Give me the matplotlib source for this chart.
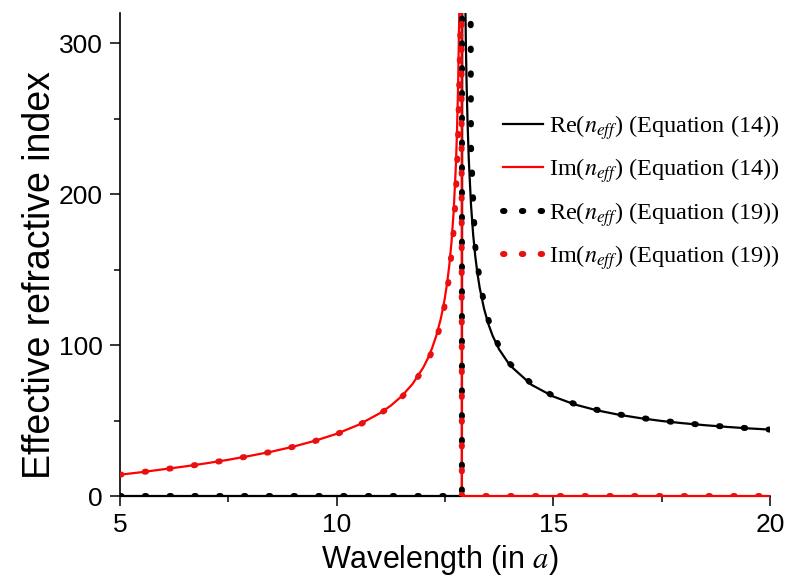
import matplotlib
matplotlib.use('Agg')
import matplotlib.pyplot as plt
from matplotlib.lines import Line2D
from matplotlib.ticker import MultipleLocator
from matplotlib.transforms import Bbox, TransformedBbox

# ---- data ----
wl_re14 = [5.0, 12.89, 12.91, 12.92, 12.94, 12.96, 12.98, 12.99, 13.0, 13.02, 13.05, 13.1,
           13.15, 13.2, 13.25, 13.3, 13.4, 13.5, 13.6, 13.75, 14.0, 14.5, 15.0, 15.5, 16.0,
           16.5, 17.0, 17.5, 18.0, 18.5, 19.0, 19.5, 20.0]
re14 = [0, 0, 854, 604, 427.6, 349.6, 303.1, 285.9, 271.4, 248.1, 222.2, 193.0,
        173.1, 158.5, 147.2, 138.0, 124.2, 114.0, 106.1, 97.1, 86.5, 73.6, 65.9, 60.6, 56.8,
        53.9, 51.6, 49.7, 48.2, 46.9, 45.8, 44.8, 44.0]

wl_im14 = [5.0, 5.5, 6.0, 6.5, 7.0, 7.5, 8.0, 8.5, 9.0, 9.5, 10.0, 10.5, 11.0, 11.25, 11.5,
           11.75, 12.0, 12.1, 12.2, 12.3, 12.4, 12.45, 12.5, 12.55, 12.6, 12.65, 12.7, 12.75,
           12.775, 12.8, 12.83, 12.86, 12.88, 12.89, 20.0]
im14 = [14.1, 15.8, 17.7, 19.6, 21.7, 24.0, 26.6, 29.4, 32.7, 36.6, 41.2, 47.1, 54.9, 59.9, 66.1,
        74.2, 85.2, 90.9, 97.8, 106.3, 117.1, 123.9, 131.8, 141.3, 153.1, 168.2, 188.6, 218.4,
        239.6, 268.3, 321.2, 425, 602, 0, 0]

wl_re19 = [5.0, 12.89, 12.9, 13.0, 13.1, 13.15, 13.2, 13.3, 13.4, 13.5, 13.6, 13.75, 14.0,
           14.5, 15.0, 15.5, 16.0, 16.5, 17.0, 17.5, 18.0, 18.5, 19.0, 19.5, 20.0]
re19 = [0, 0, 1500, 1500, 232, 196, 165, 143.4, 128.0, 116.9, 108.4, 98.8, 87.6,
        74.3, 66.3, 60.9, 57.1, 54.1, 51.8, 49.9, 48.3, 47.0, 45.9, 44.9, 44.0]

wl_im19 = [5.0, 5.5, 6.0, 6.5, 7.0, 7.5, 8.0, 8.5, 9.0, 9.5, 10.0, 10.5, 11.0, 11.25, 11.5,
           11.75, 12.0, 12.1, 12.2, 12.3, 12.4, 12.5, 12.6, 12.7, 12.75, 12.8, 12.85, 12.88,
           12.89, 20.0]
im19 = [14.1, 15.8, 17.6, 19.5, 21.6, 23.9, 26.5, 29.3, 32.6, 36.4, 41.0, 46.8, 54.6, 59.3, 65.4,
        73.2, 84.5, 89.2, 95.7, 103.7, 113.7, 127.0, 145.9, 175.7, 199.3, 235.2, 300.7, 381,
        0, 0]

labels = [r'Re($n_{eff}$) (Equation (14))', r'Im($n_{eff}$) (Equation (14))',
          r'Re($n_{eff}$) (Equation (19))', r'Im($n_{eff}$) (Equation (19))']
xticks = [5, 10, 15, 20]
yticks = [0, 100, 200, 300]

# ---- style ----
plt.rcParams['font.family'] = ['Liberation Sans', 'DejaVu Sans']
plt.rcParams['mathtext.fontset'] = 'stix'

W, H = 785, 587
fig = plt.figure(figsize=(W / 100, H / 100), dpi=100)
ax = fig.add_axes([120 / W, 1 - 496 / H, 650 / W, 483 / H])
ax.set_xlim(5, 20)
ax.set_ylim(0, 320)

RED = '#ff0000'
DOTRED = '#e81010'
lw_solid = 1.6
lw_dot = 4.3
dot_ls = (0, (0.25, 3.9))

l1, = ax.plot(wl_re14, re14, color='black', lw=lw_solid, zorder=3)
l2, = ax.plot(wl_im14, im14, color=RED, lw=lw_solid, zorder=3)
l3, = ax.plot(wl_re19, re19, color='black', lw=lw_dot, ls=dot_ls,
              dash_capstyle='round', zorder=4)
l4, = ax.plot(wl_im19, im19, color=DOTRED, lw=lw_dot, ls=dot_ls,
              dash_capstyle='round', zorder=4)

clip = TransformedBbox(Bbox([[0, -0.012], [1, 1]]), ax.transAxes)
for ln in (l1, l2):
    ln.set_clip_box(clip)

for s in ('top', 'right'):
    ax.spines[s].set_visible(False)
for s in ('left', 'bottom'):
    ax.spines[s].set_linewidth(1.2)

ax.set_xticks(xticks)
ax.set_yticks(yticks)
ax.xaxis.set_minor_locator(MultipleLocator(2.5))
ax.yaxis.set_minor_locator(MultipleLocator(50))
ax.tick_params(which='major', direction='out', length=7.2, width=1.1, labelsize=19, pad=5)
ax.tick_params(which='minor', direction='out', length=4.3, width=1.1)

fig.text(440 / W, 1 - 568 / H, r'Wavelength (in $\mathit{a}$)', fontsize=22,
         ha='center', va='baseline')
fig.text(40 / W, 1 - 275 / H, 'Effective refractive index', fontsize=27,
         rotation=90, ha='center', va='center')

handles = [
    Line2D([], [], color='black', lw=lw_solid),
    Line2D([], [], color=RED, lw=lw_solid),
    Line2D([], [], color='black', lw=lw_dot, ls=(0, (0.25, 2.9)), dash_capstyle='round'),
    Line2D([], [], color=DOTRED, lw=lw_dot, ls=(0, (0.25, 2.9)), dash_capstyle='round'),
]
fig.legend(handles, labels, loc='upper left', bbox_to_anchor=(503 / W, 1 - 113 / H),
           frameon=False, borderpad=0, borderaxespad=0, handlelength=1.65,
           handletextpad=0.26, labelspacing=0.6,
           prop={'family': 'Liberation Serif', 'size': 17.5})

fig.savefig('out.png', dpi=100)
